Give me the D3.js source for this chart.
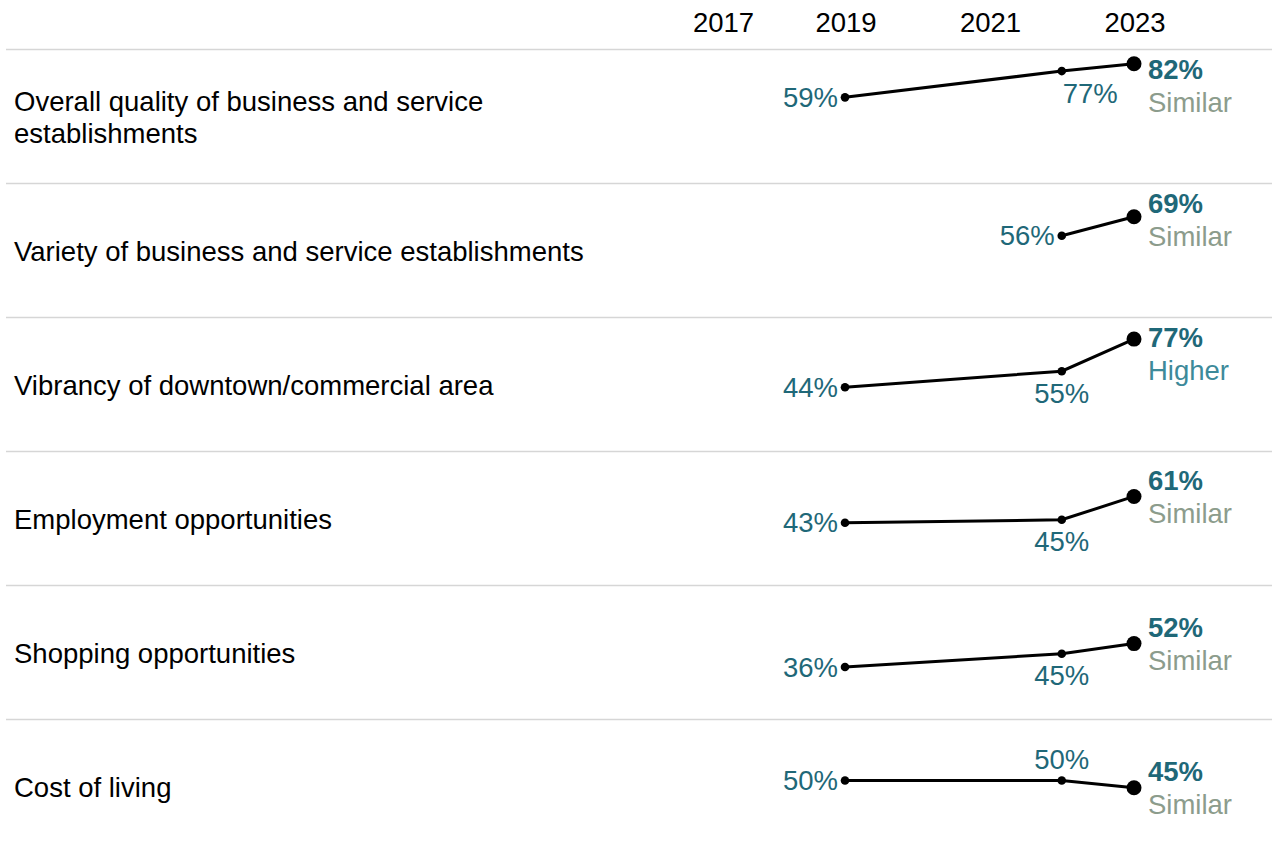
<!DOCTYPE html>
<html>
<head>
<meta charset="utf-8">
<script src="https://cdn.jsdelivr.net/npm/d3@7"></script>
<style>
  html, body { margin: 0; padding: 0; background: #fff; }
  svg { display: block; font-family: "Liberation Sans", Arial, sans-serif; }
</style>
</head>
<body>
<svg id="chart" width="1272" height="851"></svg>
<script>
// ---- Data ----
const headerYears = [2017, 2019, 2021, 2023];
const categories = [
  ["Overall quality of business and service", "establishments"],
  ["Variety of business and service establishments"],
  ["Vibrancy of downtown/commercial area"],
  ["Employment opportunities"],
  ["Shopping opportunities"],
  ["Cost of living"]
];
const years = [2019, 2022, 2023];
const values2019 = [59, null, 44, 43, 36, 50];
const values2022 = [77, 56, 55, 45, 45, 50];
const values2023 = [82, 69, 77, 61, 52, 45];
const comparisons = ["Similar", "Similar", "Higher", "Similar", "Similar", "Similar"];

// ---- Layout ----
const W = 1272, H = 851;
const top0 = 49, rowH = 134;
const FS = 27.5;
const svg = d3.select("#chart");

const x = d3.scaleLinear().domain([2019, 2023]).range([845, 1134]);
const rowScale = d3.scaleBand().domain(d3.range(categories.length))
  .range([top0, top0 + rowH * categories.length]).paddingInner(0).paddingOuter(0);
const y = d3.scaleLinear().domain([0, 100]).range([134.5, -11.5]);

const teal = "#1f6878";
const cmpColor = { "Similar": "#8c9c8c", "Higher": "#3d8a9a", "Lower": "#b0683a" };

// Header
svg.append("g").selectAll("text").data(headerYears).join("text")
  .attr("x", d => x(d) + (d === 2017 ? 23 : 1))
  .attr("y", 22).attr("dy", "0.35em")
  .attr("text-anchor", "middle")
  .attr("font-size", FS)
  .attr("fill", "#000")
  .text(d => d);

// Separators
svg.append("g").selectAll("line").data(d3.range(categories.length)).join("line")
  .attr("x1", 6).attr("x2", W)
  .attr("y1", i => rowScale(i) + 0.5).attr("y2", i => rowScale(i) + 0.5)
  .attr("stroke", "#d6d6d6").attr("stroke-width", 1.3);

const line = d3.line().x(d => x(d.year)).y(d => y(d.v));

categories.forEach((cat, i) => {
  const g = svg.append("g").attr("transform", `translate(0,${rowScale(i)})`);
  // category label
  const lh = 32;
  const startY = rowH / 2 - (cat.length - 1) * lh / 2 + 1;
  g.append("text")
    .attr("font-size", FS).attr("fill", "#000")
    .selectAll("tspan").data(cat).join("tspan")
    .attr("x", 14)
    .attr("y", (d, k) => startY + k * lh)
    .attr("dy", "0.35em")
    .text(d => d);

  const pts = [values2019[i], values2022[i], values2023[i]]
    .map((v, k) => ({ year: years[k], v }))
    .filter(d => d.v != null);

  g.append("path").datum(pts)
    .attr("d", line).attr("fill", "none")
    .attr("stroke", "#000").attr("stroke-width", 3);

  pts.forEach((p, k) => {
    const last = k === pts.length - 1;
    g.append("circle").attr("cx", x(p.year)).attr("cy", y(p.v))
      .attr("r", last ? 7.5 : 4.3).attr("fill", "#000");
  });

  // last labels
  const lastP = pts[pts.length - 1];
  const rawY = y(lastP.v) - 16;
  const valY = Math.max(rawY, 20.5);
  const clamped = rawY < 20.5;
  g.append("text")
    .attr("x", x(lastP.year) + 14).attr("y", valY).attr("dy", "0.35em")
    .attr("font-size", FS).attr("font-weight", "bold").attr("fill", teal)
    .text(lastP.v + "%");
  g.append("text")
    .attr("x", x(lastP.year) + 14).attr("y", valY + 33).attr("dy", "0.35em")
    .attr("font-size", FS).attr("fill", cmpColor[comparisons[i]])
    .text(comparisons[i]);

  // other labels
  pts.slice(0, -1).forEach((p, k) => {
    const t = g.append("text").attr("font-size", FS).attr("fill", teal)
      .attr("dy", "0.35em").text(p.v + "%");
    if (k === 0) {
      t.attr("x", x(p.year) - 7).attr("y", y(p.v)).attr("text-anchor", "end");
    } else {
      const next = pts[k + 1];
      const below = next.v >= p.v;
      t.attr("y", y(p.v) + (below ? 22 : -21));
      const crowded = clamped && Math.abs(next.v - p.v) < 10;
      if (crowded) t.attr("x", x(p.year) + 1).attr("text-anchor", "start");
      else t.attr("x", x(p.year)).attr("text-anchor", "middle");
    }
  });
});
</script>
</body>
</html>
